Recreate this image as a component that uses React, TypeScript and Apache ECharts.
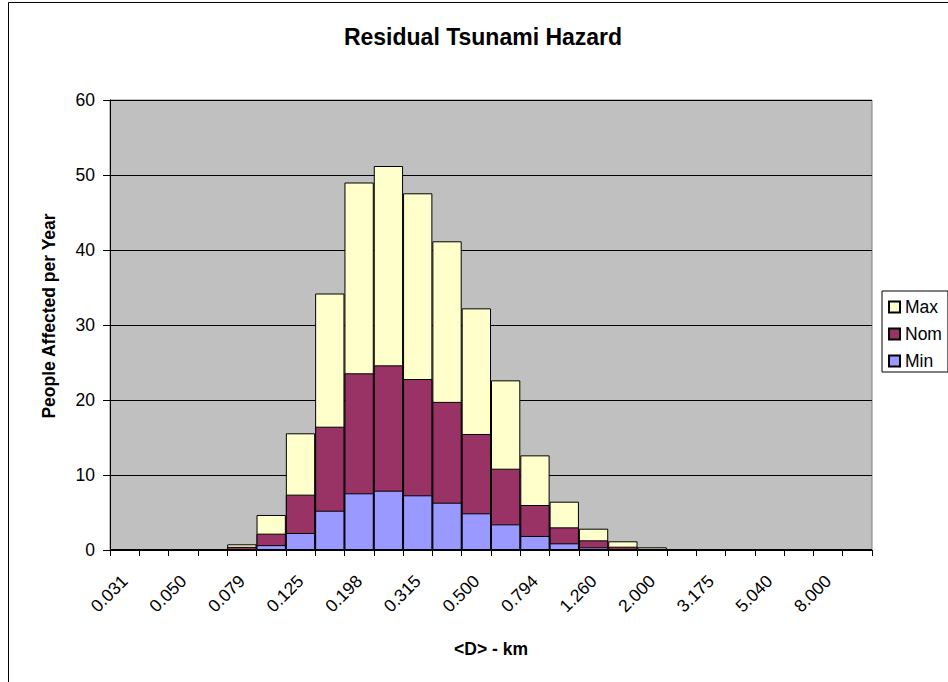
import React, { useEffect, useRef } from "react";
import * as echarts from "echarts";

const categories = [
  "0.031", "0.039", "0.050", "0.063", "0.079", "0.099", "0.125", "0.157", "0.198", "0.250",
  "0.315", "0.397", "0.500", "0.630", "0.794", "1.000", "1.260", "1.587", "2.000", "2.520",
  "3.175", "4.000", "5.040", "6.350", "8.000", "10.079",
];

const maxValues = [
  0, 0, 0, 0, 0.76, 4.67, 15.56, 34.2, 49.0, 51.2,
  47.56, 41.16, 32.22, 22.62, 12.62, 6.44, 2.84, 1.16, 0.36, 0.06,
  0, 0, 0, 0, 0, 0,
];

const nomValues = [
  0, 0, 0, 0, 0.42, 2.18, 7.38, 16.44, 23.56, 24.62,
  22.8, 19.75, 15.47, 10.84, 6.0, 3.02, 1.29, 0.44, 0.15, 0.02,
  0, 0, 0, 0, 0, 0,
];

const minValues = [
  0, 0, 0, 0, 0.12, 0.65, 2.27, 5.24, 7.56, 7.91,
  7.29, 6.31, 4.89, 3.42, 1.87, 0.89, 0.36, 0.12, 0.05, 0,
  0, 0, 0, 0, 0, 0,
];

const seriesNames = ["Max", "Nom", "Min"];
const seriesColors = ["#FFFFCC", "#993366", "#9999FF"];

const FONT = "'Liberation Sans', Arial, sans-serif";

export default function App() {
  const ref = useRef<HTMLDivElement>(null);

  useEffect(() => {
    if (!ref.current) return;
    const chart = echarts.init(ref.current, undefined, { renderer: "svg" });
    const dataSets = [maxValues, nomValues, minValues];
    const option: any = {
      animation: false,
      backgroundColor: "#ffffff",
      textStyle: { fontFamily: FONT, color: "#000" },
      title: {
        text: "Residual Tsunami Hazard",
        left: 483,
        top: 37,
        padding: 0,
        textAlign: "center",
        textVerticalAlign: "middle",
        textStyle: { fontFamily: FONT, fontSize: 23, fontWeight: "bold", color: "#000" },
      },
      graphic: [
        {
          type: "rect",
          silent: true,
          z: -10,
          shape: { x: 8.5, y: 2.5, width: 1000, height: 1000 },
          style: { fill: "none", stroke: "#000", lineWidth: 1 },
        },
      ],
      grid: {
        left: 110,
        right: 76,
        top: 100,
        bottom: 132,
        show: true,
        backgroundColor: "#C0C0C0",
        borderColor: "#808080",
        borderWidth: 1,
        containLabel: false,
        outerBoundsMode: "none",
      },
      legend: {
        orient: "vertical",
        left: 882,
        top: 291,
        padding: [7, 6, 2, 6],
        itemWidth: 11,
        itemHeight: 11,
        itemGap: 9,
        icon: "rect",
        borderColor: "#000",
        borderWidth: 1,
        borderRadius: 0,
        backgroundColor: "#fff",
        textStyle: { fontFamily: FONT, fontSize: 17.5, lineHeight: 18, color: "#000" },
        data: seriesNames,
      },
      xAxis: {
        type: "category",
        data: categories,
        boundaryGap: true,
        name: "<D> - km",
        nameLocation: "middle",
        nameGap: 90,
        nameTextStyle: { fontFamily: FONT, fontSize: 17.5, fontWeight: "bold", color: "#000" },
        axisLine: { show: true, lineStyle: { color: "#000", width: 1 } },
        axisTick: { show: true, interval: 0, length: 6, inside: false, alignWithLabel: false, lineStyle: { color: "#000" } },
        axisLabel: {
          interval: 1,
          rotate: 45,
          margin: 28,
          fontFamily: FONT,
          fontSize: 17.5,
          color: "#000",
        },
        splitLine: { show: false },
      },
      yAxis: {
        type: "value",
        min: 0,
        max: 60,
        interval: 10,
        name: "People Affected per Year",
        nameLocation: "middle",
        nameRotate: 90,
        nameGap: 52,
        nameTextStyle: {
          fontFamily: FONT,
          fontSize: 17.5,
          fontWeight: "bold",
          color: "#000",
          padding: [0, 0, 0, 18],
        },
        axisLine: { show: true, lineStyle: { color: "#000", width: 1 } },
        axisTick: { show: true, length: 7, inside: false, lineStyle: { color: "#000" } },
        axisLabel: { margin: 15, fontFamily: FONT, fontSize: 17.5, color: "#000" },
        splitLine: { show: true, lineStyle: { color: "#000", width: 1 } },
      },
      series: seriesNames.map((name, i) => ({
        name,
        type: "bar",
        data: dataSets[i],
        barGap: "-100%",
        barCategoryGap: "0%",
        itemStyle: { color: seriesColors[i], borderColor: "#000", borderWidth: 1 },
        emphasis: { disabled: true },
      })),
    };
    chart.setOption(option);
    return () => chart.dispose();
  }, []);

  return (
    <div
      ref={ref}
      style={{ position: "fixed", left: 0, top: 0, width: 948, height: 682 }}
    />
  );
}
